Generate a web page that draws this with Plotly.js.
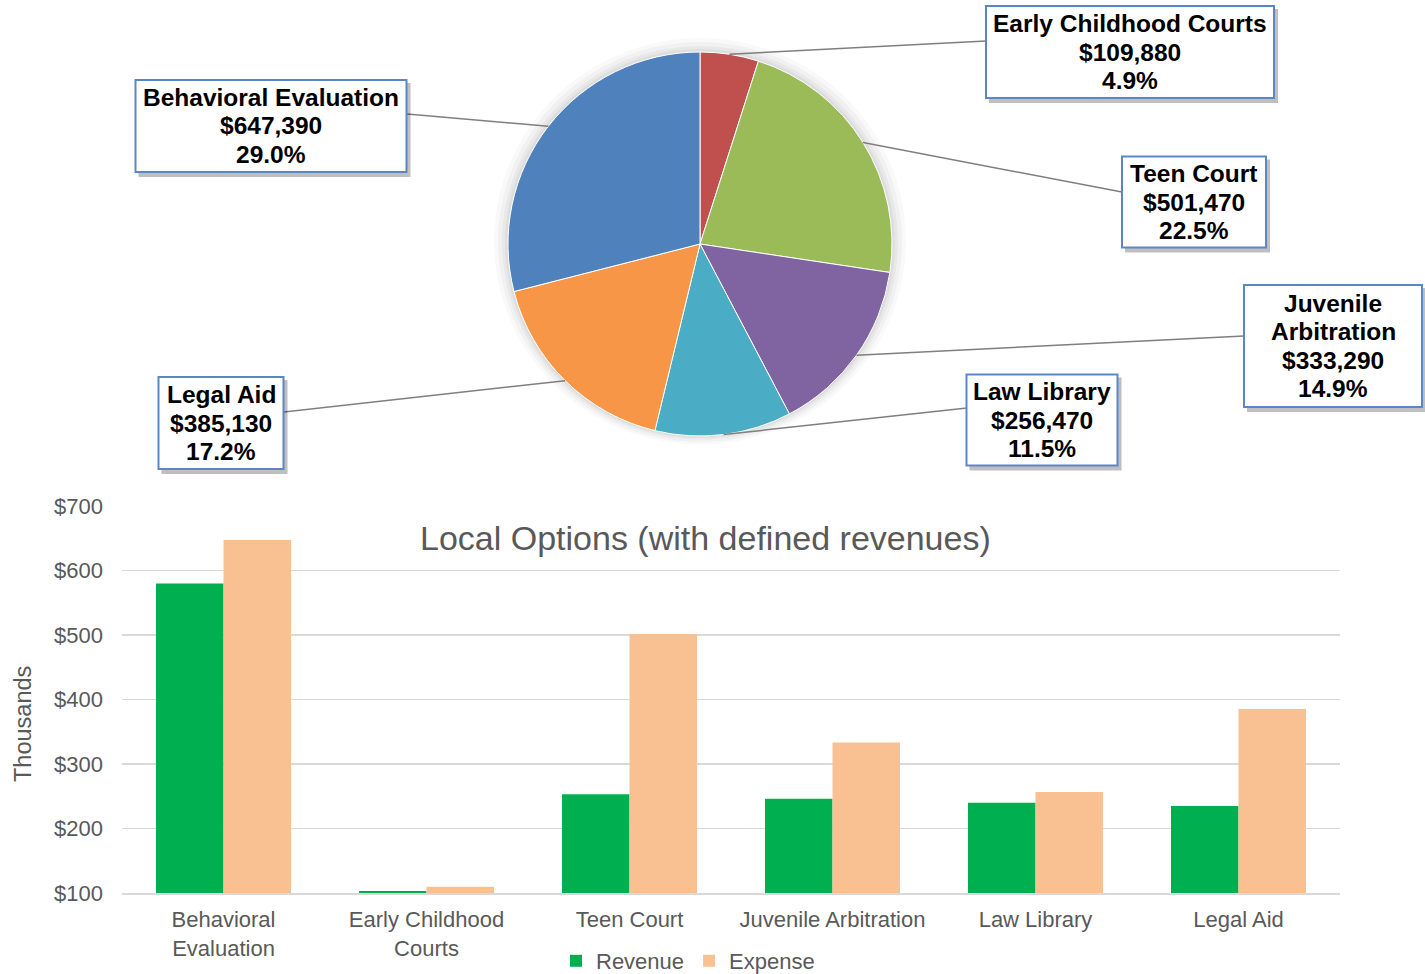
<!DOCTYPE html>
<html><head><meta charset="utf-8">
<script src="https://cdn.plot.ly/plotly-3.0.1.min.js"></script>
<style>html,body{margin:0;padding:0;background:#fff;overflow:hidden}#chart{width:1425px;height:974px}</style>
</head><body><div id="chart"></div>
<script>
// ---- data ----
const pieLabels = ["Early Childhood Courts","Teen Court","Juvenile Arbitration","Law Library","Legal Aid","Behavioral Evaluation"];
const pieBoxLines = [["Early Childhood Courts"],["Teen Court"],["Juvenile","Arbitration"],["Law Library"],["Legal Aid"],["Behavioral Evaluation"]];
const pieValues = [109880, 501470, 333290, 256470, 385130, 647390];
const pieColors = ["#C0504D","#9BBB59","#8064A2","#4BACC6","#F79646","#4F81BD"];

const barCategories = ["Behavioral<br>Evaluation","Early Childhood<br>Courts","Teen Court","Juvenile Arbitration","Law Library","Legal Aid"];
const revenue = [580, 103, 253, 246, 240, 235];
const expense = [647.39, 109.88, 501.47, 333.29, 256.47, 385.13];

const barTitle = "Local Options (with defined revenues)";
const yTitle = "Thousands";

// ---- layout helpers ----
const W = 1425, H = 974;
const px = x => x / W, py = y => 1 - y / H;
const cx = 700, cy = 244, R = 192;
const FONT = "Liberation Sans, Arial, sans-serif";

// label box geometry (pixels)
const boxes = [
  {cx:1130, cy:52,  w:288, h:92,  lx:986,  ly:41},
  {cx:1194, cy:202, w:144, h:91,  lx:1122, ly:192},
  {cx:1333, cy:346, w:178, h:122, lx:1244, ly:336},
  {cx:1042, cy:420, w:151, h:91,  lx:967,  ly:408},
  {cx:221,  cy:423, w:125, h:92,  lx:284,  ly:412},
  {cx:271,  cy:126, w:271, h:92,  lx:407,  ly:114}
];
const lineStep = 28.3;

const total = pieValues.reduce((a,b)=>a+b,0);
const fmt = v => "$" + v.toLocaleString("en-US");

const shapes = [];
const annotations = [];

// pie soft shadow
[[14,0.025],[10,0.03],[6,0.035],[3,0.04]].forEach(([d,o])=>{
  shapes.push({type:"circle", xref:"paper", yref:"paper", layer:"below",
    x0:px(cx-R-d), x1:px(cx+R+d), y0:py(cy+R+d*0.6), y1:py(cy-R-d),
    fillcolor:"rgba(0,0,0,"+o+")", line:{width:0}});
});

let cum = 0;
pieValues.forEach((v,i)=>{
  const mid = (cum + v/2) / total;
  cum += v;
  const ang = 2*Math.PI*mid;
  const ax = cx + R*Math.sin(ang), ay = cy - R*Math.cos(ang);
  const b = boxes[i];
  shapes.push({type:"line", xref:"paper", yref:"paper", layer:"above",
    x0:px(ax), y0:py(ay), x1:px(b.lx), y1:py(b.ly),
    line:{color:"#7f7f7f", width:1.5}});
  // box shadow
  shapes.push({type:"rect", xref:"paper", yref:"paper", layer:"above",
    x0:px(b.cx-b.w/2+3), x1:px(b.cx+b.w/2+4), y0:py(b.cy+b.h/2+5), y1:py(b.cy-b.h/2+3),
    fillcolor:"rgba(0,0,0,0.25)", line:{width:0}});
  // box
  shapes.push({type:"rect", xref:"paper", yref:"paper", layer:"above",
    x0:px(b.cx-b.w/2), x1:px(b.cx+b.w/2), y0:py(b.cy+b.h/2), y1:py(b.cy-b.h/2),
    fillcolor:"#ffffff", line:{color:"#5B87C6", width:2}});
  const pct = (v/total*100).toFixed(1) + "%";
  const lines = pieBoxLines[i].concat([fmt(v), pct]);
  lines.forEach((t,k)=>{
    const yy = b.cy + (k - (lines.length-1)/2) * lineStep;
    annotations.push({xref:"paper", yref:"paper", x:px(b.cx), y:py(yy),
      xanchor:"center", yanchor:"middle", showarrow:false, text:"<b>"+t+"</b>",
      font:{family:FONT, size:24.5, color:"#000"}});
  });
});

annotations.push({xref:"paper", yref:"paper", x:px(705), y:py(538), xanchor:"center", yanchor:"middle",
  showarrow:false, text:barTitle, font:{family:FONT, size:34, color:"#595959"}});
annotations.push({xref:"paper", yref:"paper", x:px(23), y:py(724), xanchor:"center", yanchor:"middle",
  showarrow:false, textangle:-90, text:yTitle, font:{family:FONT, size:23.5, color:"#595959"}});

const traces = [
  {type:"pie", labels:pieLabels, values:pieValues, sort:false, direction:"clockwise", rotation:0,
   marker:{colors:pieColors, line:{width:1, color:"#ffffff"}}, textinfo:"none", showlegend:false,
   domain:{x:[px(cx-R), px(cx+R)], y:[py(cy+R), py(cy-R)]}},
  {type:"bar", name:"Revenue", x:barCategories, y:revenue, marker:{color:"#00B050"}, xaxis:"x", yaxis:"y"},
  {type:"bar", name:"Expense", x:barCategories, y:expense, marker:{color:"#F9C191"}, xaxis:"x", yaxis:"y"}
];

const tickFont = {family:FONT, size:22, color:"#595959"};

const layout = {
  width:W, height:H, autosize:false, margin:{l:0,r:0,t:0,b:0,pad:0,autoexpand:false},
  paper_bgcolor:"#fff", plot_bgcolor:"rgba(0,0,0,0)",
  barmode:"group", bargap:0.335, bargroupgap:0,
  xaxis:{domain:[px(122), px(1340)], type:"category", tickfont:tickFont, showgrid:false, automargin:false,
    showline:true, linecolor:"#d9d9d9", linewidth:2, ticks:"", ticklabelstandoff:6, fixedrange:true},
  yaxis:{domain:[py(893), py(506)], range:[100,700], dtick:100, tickprefix:"$", tickfont:tickFont, automargin:false,
    gridcolor:"#d9d9d9", gridwidth:1.5, zeroline:false, showline:false, ticks:"", ticklabelstandoff:18},
  legend:{orientation:"h", x:px(688), xanchor:"center", y:py(961), yanchor:"middle",
    font:tickFont, bgcolor:"rgba(0,0,0,0)", itemwidth:30, tracegroupgap:0},
  shapes:shapes, annotations:annotations,
  font:{family:FONT}
};

Plotly.newPlot("chart", traces, layout, {displayModeBar:false, staticPlot:true});
</script>
</body></html>
